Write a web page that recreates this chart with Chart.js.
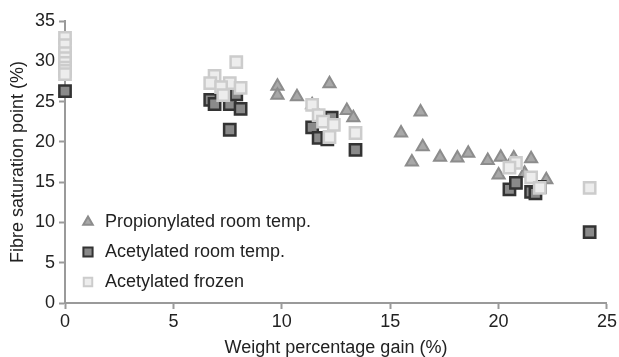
<!DOCTYPE html>
<html lang="en">
<head>
   <meta charset="UTF-8">
   <title>Fibre saturation point</title>
   <script src="https://cdn.jsdelivr.net/npm/chart.js"></script>
   <style>
      body { margin: 0; background: #fff; }
      #grafico { display: block; }
   </style>
</head>
<body>
   <canvas id="grafico" width="619" height="357"></canvas>
<script>
   // values
   const propX = [9.8, 9.8, 10.7, 12.2, 11.4, 13.0, 13.3, 16.4, 15.5, 16.5, 16.0, 17.3, 18.1, 18.6, 19.5, 20.0, 20.1, 20.7, 21.2, 21.5, 22.2];
   const propY = [26.9, 25.8, 25.6, 27.2, 24.6, 23.9, 23.0, 23.7, 21.1, 19.4, 17.5, 18.1, 18.0, 18.6, 17.7, 15.9, 18.1, 18.0, 16.1, 17.9, 15.3];

   const acetX = [0, 6.7, 6.9, 7.6, 8.1, 7.9, 7.6, 11.4, 11.7, 12.1, 12.3, 13.4, 20.5, 20.8, 21.5, 21.9, 24.2, 21.7];
   const acetY = [26.3, 25.2, 24.7, 24.7, 24.1, 25.9, 21.5, 21.8, 20.5, 20.3, 23.0, 19.0, 14.1, 14.9, 13.8, 14.4, 8.8, 13.6];

   const frozX = [0, 0, 0, 0, 0, 0, 0, 0, 7.9, 6.9, 6.7, 7.6, 7.2, 8.1, 7.3, 11.4, 11.7, 11.9, 12.4, 12.2, 13.4, 20.8, 20.5, 21.5, 21.9, 24.2];
   const frozY = [32.9, 32.0, 31.0, 30.4, 29.8, 29.2, 28.8, 28.4, 29.9, 28.2, 27.3, 27.3, 26.8, 26.7, 25.8, 24.6, 23.3, 22.5, 22.1, 20.6, 21.1, 17.4, 16.8, 15.6, 14.3, 14.3];

   const xTicks = [0, 5, 10, 15, 20, 25];
   const yTicks = [0, 5, 10, 15, 20, 25, 30, 35];

   const fonte = '"Liberation Sans", Arial, sans-serif';
   const cinza = '#9a9a9a';

   function pontos(xs, ys) {
      return xs.map(function (x, i) { return { x: x, y: ys[i] }; });
   }

   // legenda desenhada dentro da area do grafico
   const legendaDentro = {
      id: 'legendaDentro',
      afterDraw: function (chart) {
         const ctx = chart.ctx;
         const linhas = [222, 252, 282];
         const tamanhos = [5.5, 6.5, 6];
         ctx.save();
         chart.data.datasets.forEach(function (ds, i) {
            ctx.fillStyle = ds.backgroundColor;
            ctx.strokeStyle = ds.borderColor;
            ctx.lineWidth = 2;
            Chart.helpers.drawPoint(ctx, {
               pointStyle: ds.pointStyle,
               radius: tamanhos[i],
               rotation: 0,
               borderWidth: 2
            }, 88, linhas[i]);
            ctx.fillStyle = '#222';
            ctx.font = '18px ' + fonte;
            ctx.textBaseline = 'middle';
            ctx.textAlign = 'left';
            ctx.fillText(ds.label, 105, linhas[i]);
         });
         ctx.restore();
      }
   };

   const config = {
      type: 'scatter',
      data: {
         datasets: [
            {
               label: 'Propionylated room temp.',
               data: pontos(propX, propY),
               pointStyle: 'triangle',
               pointRadius: 7,
               backgroundColor: '#a8a8a8',
               borderColor: '#8c8c8c',
               borderWidth: 2,
               clip: false,
               order: 3
            },
            {
               label: 'Acetylated room temp.',
               data: pontos(acetX, acetY),
               pointStyle: 'rect',
               pointRadius: 8,
               backgroundColor: '#8a8a8a',
               borderColor: '#333333',
               borderWidth: 2.5,
               clip: false,
               order: 2
            },
            {
               label: 'Acetylated frozen',
               data: pontos(frozX, frozY),
               pointStyle: 'rect',
               pointRadius: 8,
               backgroundColor: '#ededed',
               borderColor: '#cccccc',
               borderWidth: 2.5,
               clip: false,
               order: 1
            }
         ]
      },
      options: {
         responsive: false,
         animation: false,
         layout: { padding: { left: 0, right: 10, top: 21, bottom: 0 } },
         plugins: {
            legend: { display: false },
            tooltip: { enabled: false }
         },
         scales: {
            x: {
               type: 'linear',
               min: 0,
               max: 25,
               afterBuildTicks: function (s) { s.ticks = xTicks.map(function (v) { return { value: v }; }); },
               afterFit: function (s) { s.height = 54; },
               ticks: { color: '#222', font: { family: fonte, size: 18 }, padding: 2, maxRotation: 0 },
               grid: { drawOnChartArea: false, drawTicks: true, tickLength: 6, tickColor: cinza, tickWidth: 2 },
               border: { color: cinza, width: 2 },
               title: {
                  display: true,
                  text: 'Weight percentage gain (%)',
                  color: '#222',
                  font: { family: fonte, size: 18, lineHeight: 1 },
                  padding: 0
               }
            },
            y: {
               type: 'linear',
               min: 0,
               max: 35,
               afterBuildTicks: function (s) { s.ticks = yTicks.map(function (v) { return { value: v }; }); },
               afterFit: function (s) { s.width = 65; },
               ticks: { color: '#222', font: { family: fonte, size: 18 }, padding: 4 },
               grid: { drawOnChartArea: false, drawTicks: true, tickLength: 6, tickColor: cinza, tickWidth: 2 },
               border: { color: cinza, width: 2 },
               title: {
                  display: true,
                  text: 'Fibre saturation point (%)',
                  color: '#222',
                  font: { family: fonte, size: 18, lineHeight: 1 },
                  padding: { top: 9, bottom: 0 }
               }
            }
         }
      },
      plugins: [legendaDentro]
   };

   new Chart(document.getElementById('grafico'), config);
</script>
</body>
</html>
